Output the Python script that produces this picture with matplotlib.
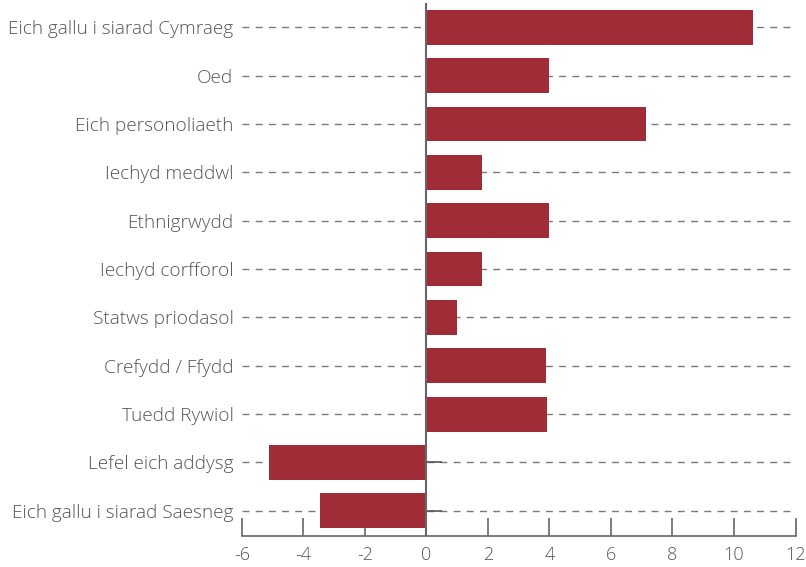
import numpy as np
import matplotlib.pyplot as plt

plt.rcParams['font.family'] = ['Open Sans', 'DejaVu Sans']
plt.rcParams['font.weight'] = 'light'

# data
categories = ["Eich gallu i siarad Cymraeg", "Oed", "Eich personoliaeth",
              "Iechyd meddwl", "Ethnigrwydd", "Iechyd corfforol",
              "Statws priodasol", "Crefydd / Ffydd", "Tuedd Rywiol",
              "Lefel eich addysg", "Eich gallu i siarad Saesneg"]
values = [10.62, 4.0, 7.15, 1.8, 4.0, 1.8, 1.0, 3.9, 3.93, -5.13, -3.45]
xticks = [-6, -4, -2, 0, 2, 4, 6, 8, 10, 12]

bar_color = "#A02C37"
grey = "#555555"

fig = plt.figure(figsize=(8.06, 5.67), dpi=100)
ax = fig.add_axes([0.300, 0.0547, 0.687, 0.940])

pos = np.arange(len(categories))

# dashed guide lines behind the bars
for p in pos:
    ax.axhline(p, color="#7a7a7a", linestyle=(0, (5, 4.5)), linewidth=1.0, zorder=1)

ax.barh(pos, values, height=0.72, color=bar_color, zorder=2)

# small dark stubs at zero for negative rows
neg = [p for p, v in zip(pos, values) if v < 0]
ax.hlines(neg, 0, 0.5, color="#555555", linewidth=1.2, zorder=3)

ax.axvline(0, color="#666666", linewidth=1.5, zorder=3)

ax.set_xlim(-6, 12)
ax.set_ylim(10.52, -0.5)
ax.set_xticks(xticks)
ax.set_xticklabels([str(t) for t in xticks])
ax.set_yticks(pos)
ax.set_yticklabels(categories)

for s in ["top", "right", "left"]:
    ax.spines[s].set_visible(False)
ax.spines["bottom"].set_color("#666666")
ax.spines["bottom"].set_linewidth(1.2)

ax.tick_params(axis="x", direction="in", length=13, width=1.2, color="#666666",
               labelsize=13, labelcolor=grey, pad=7)
ax.tick_params(axis="y", length=0, labelsize=13.7, labelcolor=grey, pad=6)

fig.savefig("out.png", dpi=100)
